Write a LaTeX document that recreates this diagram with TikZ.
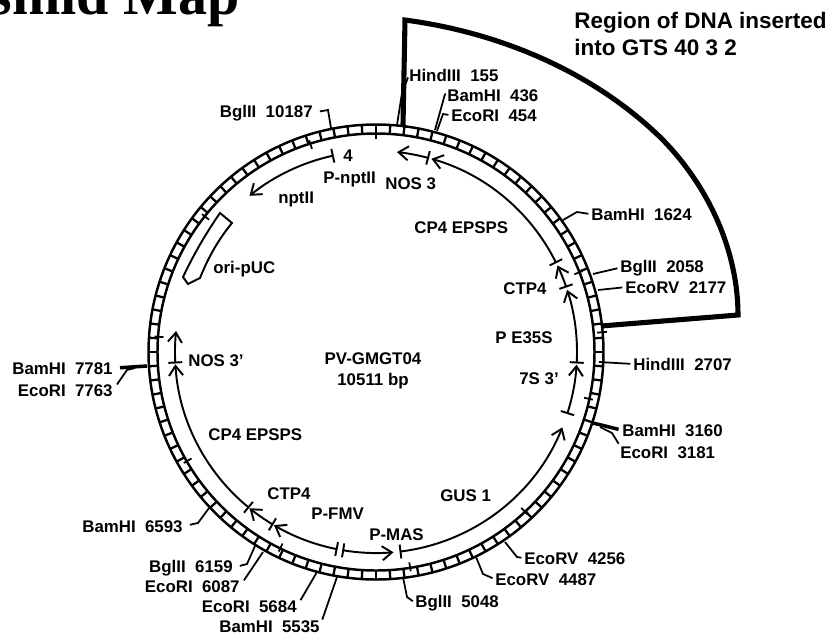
\documentclass[tikz,border=0pt]{standalone}
\usepackage{fontspec}
\setmainfont{Liberation Sans}
\newfontfamily\titlefont{Liberation Serif}
\usetikzlibrary{arrows.meta}
\definecolor{MapInk}{HTML}{000000}
\tikzset{
  sitelabel/.style={font=\fontsize{9.6}{11}\selectfont\bfseries, color=MapInk, inner sep=0pt, anchor=base west},
  sitelabelL/.style={sitelabel, anchor=base east},
  genelabel/.style={sitelabel},
  leader/.style={draw=MapInk, line width=1pt, shorten >=1.5pt},
  leaderL/.style={leader, shorten >=4pt},
  thickleader/.style={draw=MapInk, line width=2pt, shorten >=2pt},
  gene/.style={draw=MapInk, line width=1.1pt, -{Straight Barb[length=5.5pt,width=8pt,line width=1.1pt]}},
  geneline/.style={draw=MapInk, line width=1.1pt},
  sector/.style={draw=MapInk, line width=2.9pt, line join=miter}
}
\begin{document}
\begin{tikzpicture}[x=0.02cm, y=-0.02cm]
  \useasboundingbox (0,0) rectangle (829,637);

  %% Title, cut by the page edge
  \node[font=\titlefont\fontsize{33}{36}\selectfont\bfseries, color=MapInk, inner sep=0pt, anchor=base east] (title) at (240,14) {smid Map};

  %% Plasmid ring and inner gene track
  \begin{scope}[shift={(376,352)}, yscale=-1]
    \draw[MapInk, line width=1.4pt] (0,0) circle (227.5);
    \draw[MapInk, line width=1.4pt] (0,0) circle (218.5);
    \foreach \a in {0,1,...,99} {%
      \draw[MapInk, line width=1.3pt] ({90-\a*3.6}:218.5) -- ({90-\a*3.6}:227.5);
    }
    %% Site marks poking out of the ring
    \foreach \a in {90,107.5,141.6,176,21.4,-12.4,-47,-81,-116,-150} {%
      \draw[MapInk, line width=1pt] (\a:213) -- (\a:222);
    }
    \draw[MapInk, line width=1pt] (5:222) -- (5:232);

    %% Genes, angles
    \draw[gene] (75:201) arc (75:84:201);
    \draw[gene] (26.5:201) arc (26.5:74:201);
    \draw[gene] (19:201) arc (19:25.5:201);
    \draw[gene] (-3:201) arc (-3:18:201);
    \draw[gene] (-17.7:201) arc (-17.7:-3.6:201);
    \draw[gene] (-83:201) arc (-83:-22:201);
    \draw[gene] (-99.4:201) arc (-99.4:-85:201);
    \draw[gene] (-101.3:201) arc (-101.3:-120.5:201);
    \draw[gene] (-121:201) arc (-121:-129:201);
    \draw[gene] (-129.4:201) arc (-129.4:-176.5:201);
    \draw[gene] (-177:201) arc (-177:-186:201);
    \draw[gene] (102.4:201) arc (102.4:129:201);
    \foreach \a in {75,26.5,19,-3,-17.7,-83,-99.4,-101.3,-121,-129.4,-177,102.4} {%
      \draw[geneline] (\a:194) -- (\a:208);
    }
  \end{scope}

  %% Region inserted into GTS 40 3 2
  \draw[sector] (403,125) -- (405,20)
    .. controls (510,34) and (600,78) .. (662,139)
    .. controls (712,190) and (738,255) .. (738,315) -- (601,326);
  \node[font=\fontsize{12.8}{15}\selectfont\bfseries, color=MapInk, inner sep=0pt, anchor=base west] (region) at (574,28) {Region of DNA inserted};
  \node[font=\fontsize{12.8}{15}\selectfont\bfseries, color=MapInk, inner sep=0pt, anchor=base west] (gts) at (574,55) {into GTS 40 3 2};

  %% ori-pUC box
  \draw[geneline] (183,277) .. controls (192,258) and (204,236) .. (220,213) -- (232,223)
    .. controls (218,240) and (208,258) .. (200,278) -- (188,284) -- cycle;

  %% Gene names
  \node[genelabel] (nos3a) at (385,189) {NOS 3};
  \node[genelabel] (pnpt) at (323,183) {P-nptII};
  \node[genelabel] (four) at (343,161) {4};
  \node[genelabel] (npt) at (278,203) {nptII};
  \node[genelabel] (ori) at (213,273) {ori-pUC};
  \node[genelabel] (nos3b) at (188,366) {NOS 3'};
  \node[genelabel] (epspsa) at (414,233) {CP4 EPSPS};
  \node[genelabel] (ctpa) at (503,294) {CTP4};
  \node[genelabel] (e35s) at (495,343) {P E35S};
  \node[genelabel] (s73) at (519,384) {7S 3'};
  \node[genelabel] (epspsb) at (208,440) {CP4 EPSPS};
  \node[genelabel] (ctpb) at (267,499) {CTP4};
  \node[genelabel] (pfmv) at (311,519) {P-FMV};
  \node[genelabel] (pmas) at (369,540) {P-MAS};
  \node[genelabel] (gus) at (440,501) {GUS 1};
  \node[genelabel, anchor=base] (name) at (373,364) {PV-GMGT04};
  \node[genelabel, anchor=base] (size) at (373,385) {10511 bp};

  %% Restriction sites
  \node[sitelabel] (hind155) at (409,81) {HindIII\ \ 155};
  \node[sitelabel] (bam436) at (447,101) {BamHI\ \ 436};
  \node[sitelabel] (eco454) at (451,121) {EcoRI\ \ 454};
  \node[sitelabel] (bam1624) at (591,220) {BamHI\ \ 1624};
  \node[sitelabel] (bgl2058) at (620,272) {BglII\ \ 2058};
  \node[sitelabel] (eco2177) at (625,293) {EcoRV\ \ 2177};
  \node[sitelabel] (hind2707) at (633,370) {HindIII\ \ 2707};
  \node[sitelabel] (bam3160) at (622,436) {BamHI\ \ 3160};
  \node[sitelabel] (eco3181) at (620,458) {EcoRI\ \ 3181};
  \node[sitelabel] (eco4256) at (524,564) {EcoRV\ \ 4256};
  \node[sitelabel] (eco4487) at (495,585) {EcoRV\ \ 4487};
  \node[sitelabel] (bgl5048) at (415,607) {BglII\ \ 5048};
  \node[sitelabelL] (bgl10187) at (313,117) {BglII\ \ 10187};
  \node[sitelabelL] (bam5535) at (320,632) {BamHI\ \ 5535};
  \node[sitelabelL] (eco5684) at (297,612) {EcoRI\ \ 5684};
  \node[sitelabelL] (eco6087) at (240,592) {EcoRI\ \ 6087};
  \node[sitelabelL] (bgl6159) at (233,572) {BglII\ \ 6159};
  \node[sitelabelL] (bam6593) at (183,532) {BamHI\ \ 6593};
  \node[sitelabelL] (bam7781) at (113,374) {BamHI\ \ 7781};
  \node[sitelabelL] (eco7763) at (113,396) {EcoRI\ \ 7763};

  %% Free ends of the leaders, on the ring
  \foreach \n/\x/\y in {hind155/397/125, bam436/435/130, eco454/437/131, bam1624/563/220,
                        bgl2058/593/274, eco2177/598/290, hind2707/599/362, bam3160/593/423,
                        eco3181/600/427, eco4256/505/542, eco4487/476/557, bgl5048/403/577,
                        bgl10187/331/128, bam5535/337/577, eco5684/317/572, eco6087/263/552,
                        bgl6159/255/546, bam6593/209/508, bam7781/147/366, eco7763/135/368} {%
    \coordinate (\n-r) at (\x,\y);
  }

  %% Leaders
  \draw[leader] (hind155-r) -- (402,93) -- (hind155.west);
  \draw[leader] (bam436-r) -- (445,94) -- (bam436.west);
  \draw[leader] (eco454-r) -- (443,114) -- (eco454.west);
  \draw[leader] (bam1624-r) -- (577,212) -- (bam1624.west);
  \draw[leader] (bgl2058-r) -- (bgl2058.west);
  \draw[leader] (eco2177-r) -- (eco2177.west);
  \draw[leader] (hind2707-r) -- (hind2707.west);
  \draw[thickleader] (bam3160-r) -- (bam3160.west);
  \draw[leader] (eco3181-r) -- (612,433) -- (eco3181.north west);
  \draw[leader] (eco4256-r) -- (517,557) -- (eco4256.west);
  \draw[leader] (eco4487-r) -- (483,574) -- (eco4487.west);
  \draw[leader] (bgl5048-r) -- (407,597) -- (bgl5048.west);
  \draw[leaderL] (bgl10187-r) -- (328,110) -- (bgl10187.east);
  \draw[leaderL] (bam5535-r) -- (bam5535.east);
  \draw[leaderL] (eco5684-r) -- (eco5684.east);
  \draw[leaderL] (eco6087-r) -- (eco6087.east);
  \draw[leaderL] (bgl6159-r) -- (247,564) -- (bgl6159.east);
  \draw[leaderL] (bam6593-r) -- (198,523) -- (bam6593.east);
  \draw[thickleader, shorten >=4pt] (bam7781-r) -- (bam7781.east);
  \draw[leaderL] (eco7763-r) -- (127,370) -- (eco7763.east);
\end{tikzpicture}
\end{document}
